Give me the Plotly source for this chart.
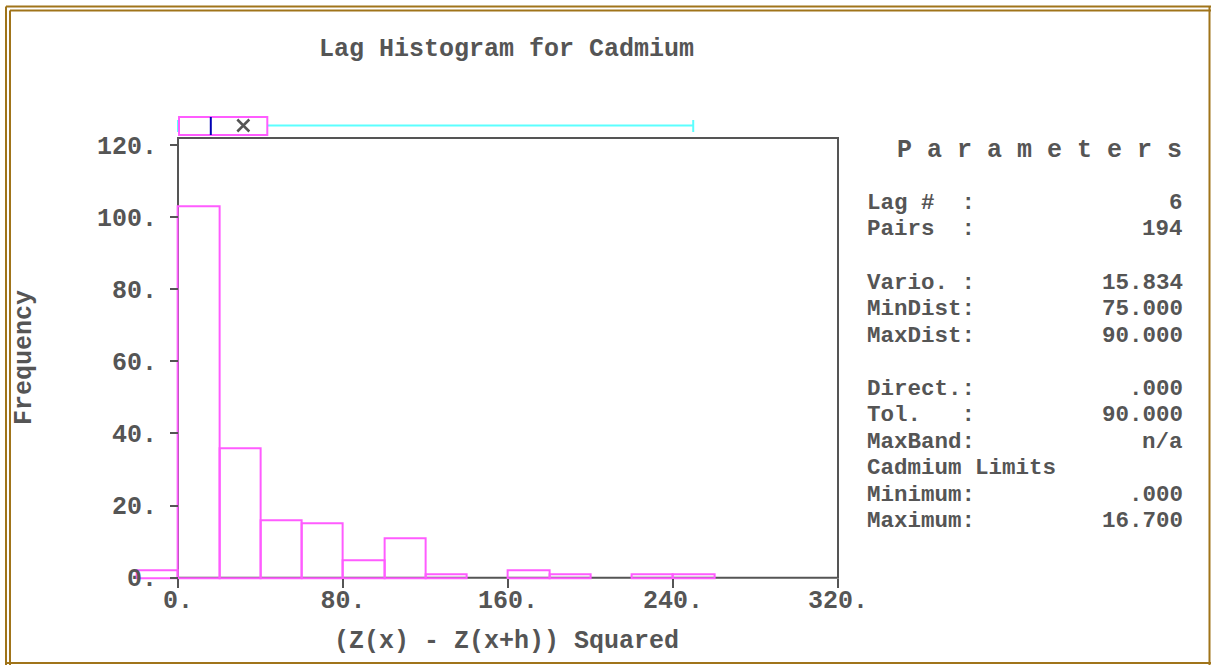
import plotly.graph_objects as go

W, H = 1211, 665

# ---------------- data ----------------
bin_starts = [-20, 0, 20, 40, 60, 80, 100, 120, 140, 160, 180, 200, 220, 240]
bin_width = 20
counts = [2, 103, 36, 16, 15, 5, 11, 1, 0, 2, 1, 0, 1, 1]

x_ticks = [0, 80, 160, 240, 320]
x_tick_labels = ["0.", "80.", "160.", "240.", "320."]
y_ticks = [0, 20, 40, 60, 80, 100, 120]
y_tick_labels = ["0.", "20.", "40.", "60.", "80.", "100.", "120."]

box_min = 0.0
box_q1 = 0.5
box_median = 15.9
box_q3 = 43.3
box_max = 249.8
box_mean = 31.668

title_text = "Lag Histogram for Cadmium"
x_title = "(Z(x) - Z(x+h)) Squared"
y_title = "Frequency"
panel_title = "P a r a m e t e r s"
param_labels = ["Lag #  :", "Pairs  :", "Vario. :", "MinDist:", "MaxDist:",
                "Direct.:", "Tol.   :", "MaxBand:", "Cadmium Limits",
                "Minimum:", "Maximum:"]
param_values = ["6", "194", "15.834", "75.000", "90.000",
                ".000", "90.000", "n/a", "",
                ".000", "16.700"]
param_rows = [0, 1, 3, 4, 5, 7, 8, 9, 10, 11, 12]

# ---------------- styles ----------------
PINK = "#ff5cff"
CYAN = "#5cffff"
BLUE = "#0000b4"
GRAY = "#555555"
GOLD = "#a0741a"
FONT = "Liberation Mono"
FS = 25
FS_PANEL = 22.5
ROW_H = 26.5


def fx(px):
    return px / W


def fy(py):
    return 1 - py / H


# axis geometry (pixels)
X0_PX, X1_PX = 178.0, 838.0          # x=0 .. x=320
PPX = (X1_PX - X0_PX) / 320.0
Y0_PX, PPY = 577.7, 3.606            # y=0 pixel, pixels per unit
xr = [-22, 322]
yr = [-1, 123]
frame_top = (Y0_PX - 138.0) / PPY

x_dom = [fx(X0_PX + xr[0] * PPX), fx(X0_PX + xr[1] * PPX)]
y_dom = [fy(Y0_PX - yr[0] * PPY), fy(Y0_PX - yr[1] * PPY)]

# box-plot strip (pixels 112..140), value = 140 - py
y2_dom = [fy(140), fy(112)]

fig = go.Figure()

fig.add_trace(go.Bar(
    x=[s + bin_width / 2 for s in bin_starts],
    y=[c if c > 0 else None for c in counts],
    width=bin_width,
    marker=dict(color="rgba(0,0,0,0)", line=dict(color=PINK, width=2)),
    xaxis="x", yaxis="y", showlegend=False, hoverinfo="x+y",
))

fig.add_trace(go.Scatter(
    x=[box_mean], y=[14.5], mode="markers",
    marker=dict(symbol="x-thin", size=12, line=dict(color=GRAY, width=2.5)),
    xaxis="x", yaxis="y2", showlegend=False,
))

shapes = []
# plot frame
shapes.append(dict(type="rect", xref="x", yref="y", x0=0, x1=320, y0=0, y1=frame_top,
                   line=dict(color=GRAY, width=2), layer="below"))
# box plot
shapes.append(dict(type="line", xref="x", yref="y2", x0=box_q3, x1=box_max, y0=14.5, y1=14.5,
                   line=dict(color=CYAN, width=2)))
shapes.append(dict(type="line", xref="x", yref="y2", x0=box_min, x1=box_q1, y0=14.5, y1=14.5,
                   line=dict(color=CYAN, width=2)))
shapes.append(dict(type="line", xref="x", yref="y2", x0=box_max, x1=box_max, y0=8, y1=20,
                   line=dict(color=CYAN, width=2)))
shapes.append(dict(type="line", xref="x", yref="y2", x0=box_min, x1=box_min, y0=8, y1=20,
                   line=dict(color=CYAN, width=2)))
shapes.append(dict(type="rect", xref="x", yref="y2", x0=box_q1, x1=box_q3, y0=5, y1=23,
                   line=dict(color=PINK, width=2)))
shapes.append(dict(type="line", xref="x", yref="y2", x0=box_median, x1=box_median, y0=5, y1=23,
                   line=dict(color=BLUE, width=2)))

# outer decorative border
for (x0, y0, x1, y1) in [(6, 6.5, W, 6.5), (6, 6.5, 6, H), (10, 10.5, W, 10.5), (10, 10.5, 10, H),
                         (1209.5, 6.5, 1209.5, H), (6, 663, W, 663)]:
    shapes.append(dict(type="line", xref="paper", yref="paper",
                       x0=fx(x0), x1=fx(x1), y0=fy(y0), y1=fy(y1),
                       line=dict(color=GOLD, width=2)))

font = dict(family=FONT, size=FS, color=GRAY, weight="bold")
pfont = dict(family=FONT, size=FS_PANEL, color=GRAY, weight="bold")

annotations = []
annotations.append(dict(text=title_text, x=fx(507), y=fy(49), xref="paper", yref="paper",
                        showarrow=False, font=font, xanchor="center", yanchor="middle"))
annotations.append(dict(text=x_title, x=fx(507), y=fy(641), xref="paper", yref="paper",
                        showarrow=False, font=font, xanchor="center", yanchor="middle"))
annotations.append(dict(text=y_title, x=fx(24), y=fy(358), xref="paper", yref="paper",
                        showarrow=False, font=font, textangle=-90,
                        xanchor="center", yanchor="middle"))
annotations.append(dict(text=panel_title.replace(" ", "\u00a0"), x=fx(1184), y=fy(151),
                        xref="paper", yref="paper", showarrow=False, font=font,
                        xanchor="right", yanchor="middle"))
for lab, val, r in zip(param_labels, param_values, param_rows):
    py = 203 + r * ROW_H
    annotations.append(dict(text=lab.replace(" ", "\u00a0"), x=fx(866), y=fy(py),
                            xref="paper", yref="paper", showarrow=False, font=pfont,
                            xanchor="left", yanchor="middle", borderpad=0))
    if val:
        annotations.append(dict(text=val, x=fx(1184), y=fy(py),
                                xref="paper", yref="paper", showarrow=False, font=pfont,
                                xanchor="right", yanchor="middle", borderpad=0))

tickfont = dict(family=FONT, size=FS, color=GRAY, weight="bold")

fig.update_layout(
    template="none",
    width=W, height=H, autosize=False,
    margin=dict(l=0, r=0, t=0, b=0, pad=0, autoexpand=False),
    paper_bgcolor="white", plot_bgcolor="rgba(0,0,0,0)",
    showlegend=False, bargap=0,
    xaxis=dict(domain=x_dom, range=xr, anchor="free", position=fy(Y0_PX),
               automargin=False,
               tickmode="array", tickvals=x_ticks, ticktext=x_tick_labels,
               ticks="outside", ticklen=9, tickwidth=2, tickcolor=GRAY,
               ticklabelstandoff=-10,
               tickfont=tickfont, showgrid=False, zeroline=False, showline=False),
    yaxis=dict(domain=y_dom, range=yr, anchor="free", position=fx(X0_PX),
               automargin=False,
               tickmode="array", tickvals=y_ticks, ticktext=y_tick_labels,
               ticks="outside", ticklen=8, tickwidth=2, tickcolor=GRAY,
               ticklabelstandoff=8,
               tickfont=tickfont, showgrid=False, zeroline=False, showline=False),
    yaxis2=dict(domain=y2_dom, range=[0, 28], anchor="x", visible=False,
                automargin=False, showgrid=False, zeroline=False),
    shapes=shapes,
    annotations=annotations,
)

fig.write_html(
    "out.html",
    config={"responsive": False, "displayModeBar": False},
    post_script="document.body.style.margin='0';document.body.style.overflow='hidden';",
)
